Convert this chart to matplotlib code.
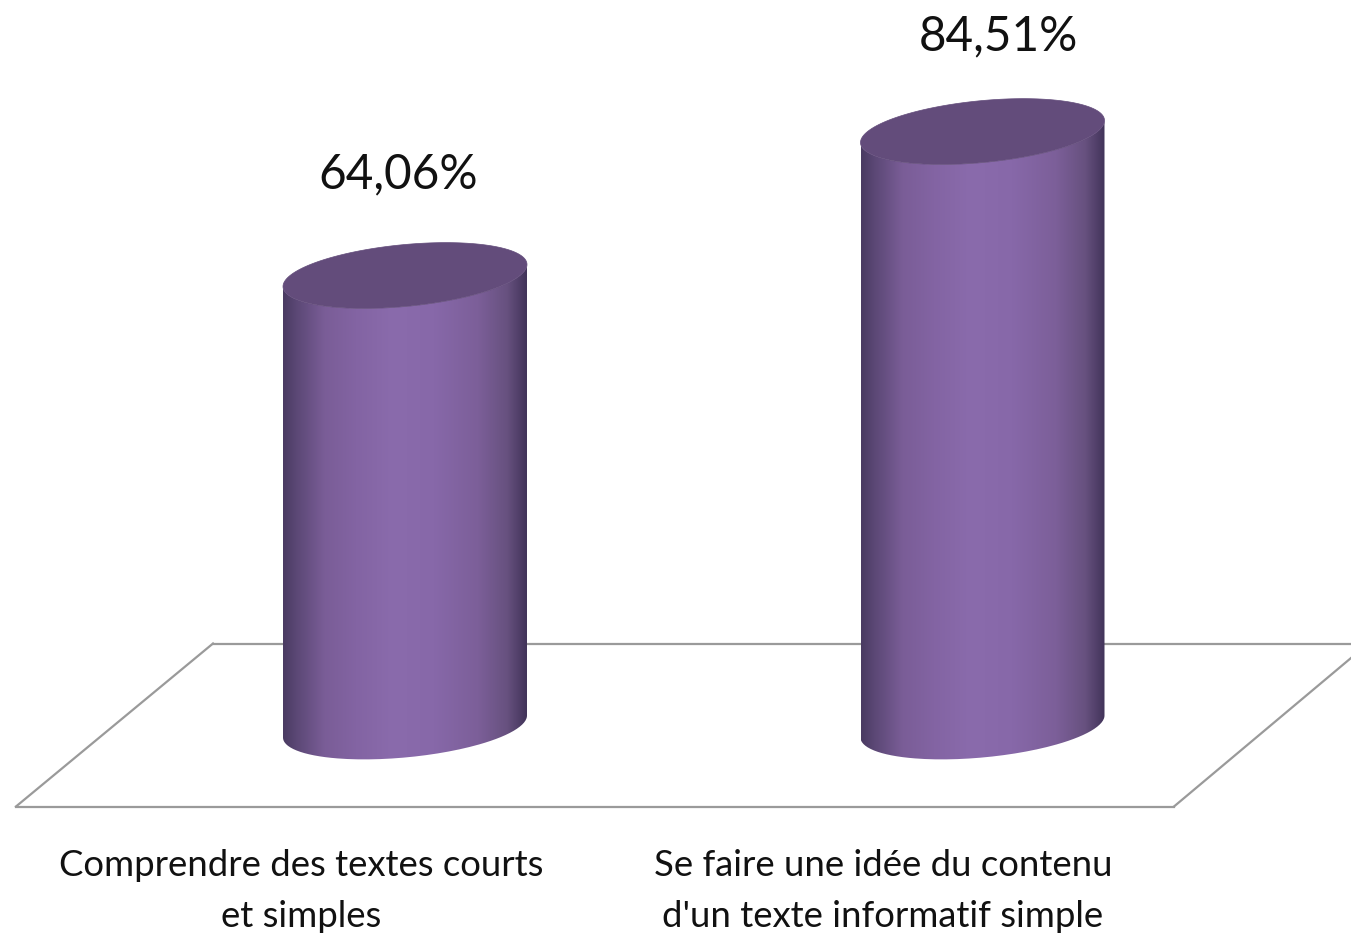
import numpy as np
import matplotlib
matplotlib.use('Agg')
from matplotlib import pyplot as plt
from matplotlib.colors import LinearSegmentedColormap
from matplotlib.patches import PathPatch
from matplotlib.path import Path

plt.rcParams['font.family'] = ['Lato', 'DejaVu Sans']

categories = ['Comprendre des textes courts\net simples',
              "Se faire une idée du contenu\nd'un texte informatif simple"]
values = [64.06, 84.51]
value_labels = ['64,06%', '84,51%']

W, H = 1351, 938
# scale: 577.5 px between bars, 7.04 px per percent
x_px0, x_px1 = 405, 982.5
y_px0, y_unit = 726.5, 7.04

fig = plt.figure(figsize=(W/100, H/100), dpi=100)
ax = fig.add_axes([0, 0, 1, 1])
x_unit = x_px1 - x_px0
xlim = (-x_px0/x_unit, (W-x_px0)/x_unit)
ylim = (-(H-y_px0)/y_unit, y_px0/y_unit)

cmap = LinearSegmentedColormap.from_list('cyl', [
    (0.0, '#4a3b62'), (0.05, '#5a4774'), (0.17, '#7a5d97'), (0.30, '#8364a3'),
    (0.45, '#8a6bac'), (0.62, '#8768a9'), (0.80, '#7c5f99'), (0.92, '#67517f'),
    (1.0, '#42345a')])

half = 122/x_unit
semi = 31/y_unit
skew = 11/y_unit
t = np.linspace(0, 2*np.pi, 200)


def ellipse(cx, cy, tt):
    return cx + half*np.cos(tt), cy + semi*np.sin(tt) + skew*np.cos(tt)


# floor of the 3d plot, in pixels
def px(x, y):
    return x/W, 1 - y/H


floor = [[(213, 643.5), (1351, 643.5)],
         [(213, 643.5), (16, 806.5)],
         [(16, 806.5), (1174, 806.5)],
         [(1174, 806.5), (1351, 658)]]
for seg in floor:
    (xa, ya), (xb, yb) = px(*seg[0]), px(*seg[1])
    ax.plot([xa, xb], [ya, yb], color='#9a9a9a', lw=1.6, transform=ax.transAxes,
            clip_on=False, zorder=1)

grad = np.linspace(0, 1, 256).reshape(1, -1)
for i, v in enumerate(values):
    # body: lower half of base ellipse, then back along lower half of the top
    tt = np.linspace(np.pi, 2*np.pi, 100)
    bx, by = ellipse(i, 0, tt)
    tx, ty = ellipse(i, v, tt[::-1])
    verts = np.r_[np.c_[bx, by], np.c_[tx, ty], [[bx[0], by[0]]]]
    body = Path(verts)
    im = ax.imshow(grad, cmap=cmap, aspect='auto', zorder=2, vmin=0, vmax=1,
                   extent=(i-half, i+half, -10, v+10))
    patch = PathPatch(body, transform=ax.transData, fc='none', ec='none')
    ax.add_patch(patch)
    im.set_clip_path(patch)
    ex, ey = ellipse(i, v, t)
    ax.fill(ex, ey, color='#634c7b', zorder=3, lw=0.5)

ax.set_xlim(xlim)
ax.set_ylim(ylim)
ax.axis('off')

label_x = [301, 883]
label_y = [891, 891]
for i, lab in enumerate(categories):
    x, y = px(label_x[i], label_y[i])
    ax.text(x, y, lab, transform=ax.transAxes, ha='center', va='center',
            fontsize=26.3, color='#111111', linespacing=1.7)

value_x = [-0.012, 0.027]
value_y = [14.3, 13.5]
for i, v in enumerate(values):
    ax.text(i + value_x[i], v + value_y[i], value_labels[i], ha='center', va='center',
            fontsize=34.3, color='#111111')

fig.savefig('out.png', dpi=100)
